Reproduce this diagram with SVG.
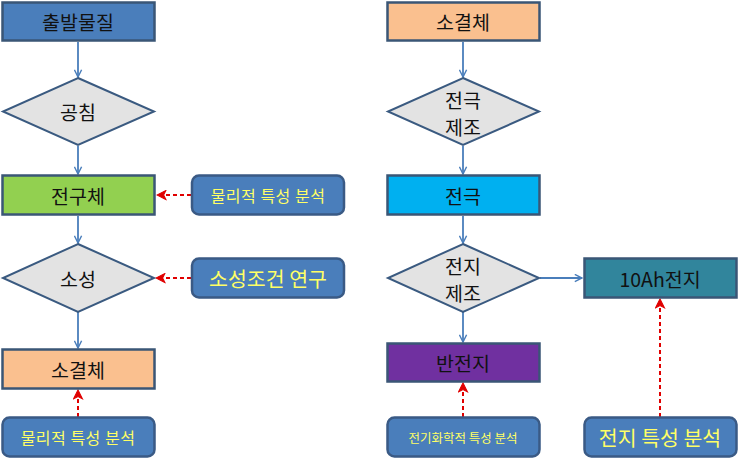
<svg xmlns="http://www.w3.org/2000/svg" width="739" height="459" viewBox="0 0 739 459">
<defs>
<marker id="ab" viewBox="0 0 10 10" refX="9" refY="5" markerWidth="9" markerHeight="9" markerUnits="userSpaceOnUse" orient="auto">
<path d="M1,1 L9,5 L1,9" fill="none" stroke="#4A7EBB" stroke-width="1.6"/>
</marker>
<marker id="ar" viewBox="0 0 10 10" refX="9" refY="5" markerWidth="11" markerHeight="11" markerUnits="userSpaceOnUse" orient="auto">
<path d="M1,1 L9,5 L1,9 L3,5 Z" fill="#E00000" stroke="#E00000" stroke-width="1"/>
</marker>
</defs>
<style>
.box{stroke:#3A5676;stroke-width:2.5}
.dia{fill:#E3E3E3;stroke:#3A5A80;stroke-width:2}
.rb{fill:#4A7EBB;stroke:#3A5A85;stroke-width:2.5}
.t{font-family:"Noto Sans CJK KR","Liberation Sans",sans-serif;text-anchor:middle;dominant-baseline:central;fill:#111;font-size:19.5px}
.y{fill:#FFFF66}
.s{font-size:16px;letter-spacing:0.5px}
.cb{stroke:#4A7EBB;stroke-width:1.8;fill:none;marker-end:url(#ab)}
.cr{stroke:#E00000;stroke-width:2;stroke-dasharray:4,3;fill:none;marker-end:url(#ar)}
</style>
<g id="connectors">
<line class="cb" x1="78" y1="42" x2="78" y2="77"/>
<line class="cb" x1="78" y1="146" x2="78" y2="174"/>
<line class="cb" x1="78" y1="216" x2="78" y2="243"/>
<line class="cb" x1="78" y1="312" x2="78" y2="348"/>
<line class="cb" x1="463" y1="42" x2="463" y2="77"/>
<line class="cb" x1="463" y1="146" x2="463" y2="174"/>
<line class="cb" x1="463" y1="216" x2="463" y2="243"/>
<line class="cb" x1="463" y1="312" x2="463" y2="342"/>
<line class="cb" x1="540" y1="278" x2="582" y2="278"/>
<line class="cr" x1="191" y1="195" x2="157" y2="195"/>
<line class="cr" x1="191" y1="278" x2="156" y2="278"/>
<line class="cr" x1="78" y1="417" x2="78" y2="390"/>
<line class="cr" x1="463" y1="417" x2="463" y2="383"/>
<line class="cr" x1="660" y1="417" x2="660" y2="299"/>
</g>
<g id="n1"><rect class="box" x="2.5" y="2.5" width="152" height="38" fill="#4A7EBB"/><text class="t" x="78" y="21">출발물질</text></g>
<g id="n2"><polygon class="dia" points="78,78 154,111.5 78,145 3,111.5"/><text class="t" x="78" y="111">공침</text></g>
<g id="n3"><rect class="box" x="2.5" y="175.5" width="152" height="39" fill="#92D050"/><text class="t" x="78" y="195">전구체</text></g>
<g id="n4"><polygon class="dia" points="78,244 154,278 78,312 3,278"/><text class="t" x="78" y="278">소성</text></g>
<g id="n5"><rect class="box" x="2.5" y="349.5" width="152" height="39" fill="#FAC08F"/><text class="t" x="78" y="369">소결체</text></g>
<g id="n6"><rect class="rb" x="2.5" y="417.5" width="152" height="39" rx="7"/><text class="t y s" x="78" y="437">물리적 특성 분석</text></g>
<g id="n7"><rect class="rb" x="192" y="175.5" width="152" height="39" rx="7"/><text class="t y s" x="268" y="195">물리적 특성 분석</text></g>
<g id="n8"><rect class="rb" x="192" y="258.5" width="152" height="39" rx="7"/><text class="t y" x="268" y="278" style="font-size:20.5px">소성조건 연구</text></g>
<g id="n9"><rect class="box" x="387.5" y="2.5" width="152" height="38" fill="#FAC08F"/><text class="t" x="463" y="21">소결체</text></g>
<g id="n10"><polygon class="dia" points="463,78 539,111.5 463,145 388,111.5"/><text class="t" x="463" y="99">전극</text><text class="t" x="463" y="126">제조</text></g>
<g id="n11"><rect class="box" x="387.5" y="175.5" width="152" height="39" fill="#00B0F0"/><text class="t" x="463" y="195">전극</text></g>
<g id="n12"><polygon class="dia" points="463,244 539,278 463,312 388,278"/><text class="t" x="463" y="265">전지</text><text class="t" x="463" y="292">제조</text></g>
<g id="n13"><rect class="box" x="584.5" y="258.5" width="152" height="39" fill="#31859C"/><text class="t" x="660" y="278">10Ah전지</text></g>
<g id="n14"><rect class="box" x="387.5" y="343.5" width="152" height="38" fill="#7030A0"/><text class="t" x="463" y="362">반전지</text></g>
<g id="n15"><rect class="rb" x="387.5" y="417.5" width="152" height="39" rx="7"/><text class="t y" x="463" y="437" style="font-size:12.5px">전기화학적 특성 분석</text></g>
<g id="n16"><rect class="rb" x="584.5" y="417.5" width="152" height="39" rx="7"/><text class="t y" x="660" y="437" style="font-size:20.5px">전지 특성 분석</text></g>
</svg>
